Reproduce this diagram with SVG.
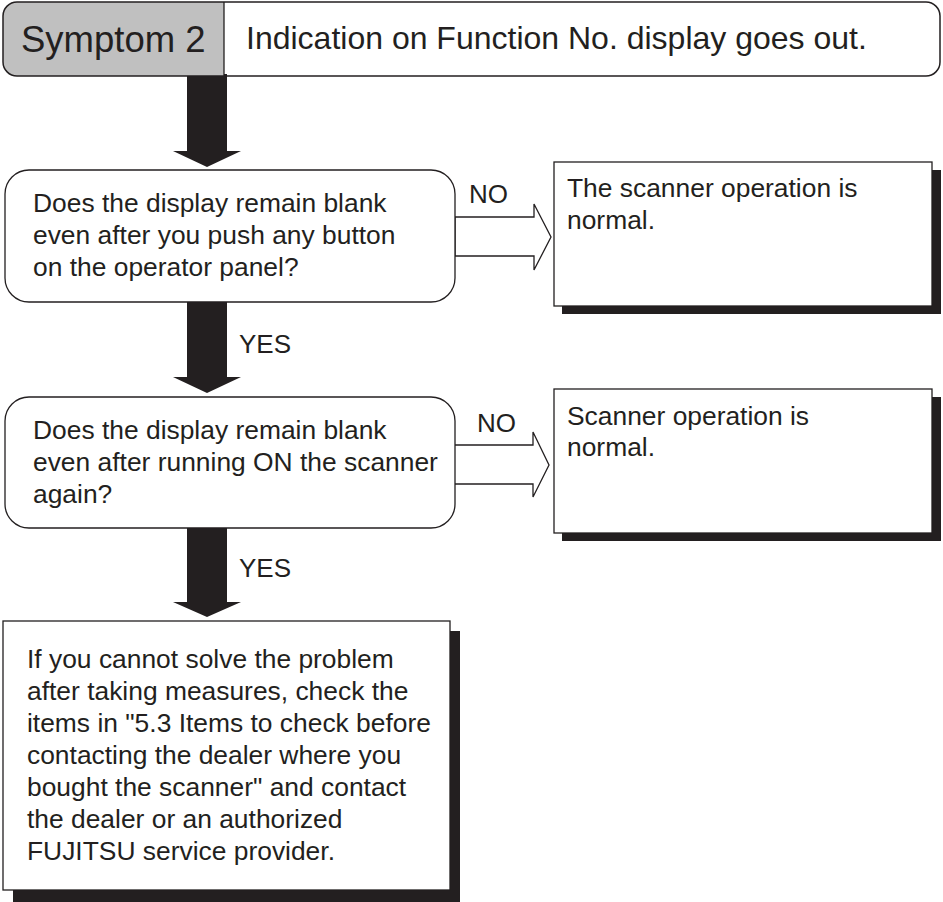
<svg xmlns="http://www.w3.org/2000/svg" width="943" height="902" viewBox="0 0 943 902">
<style>
text{font-family:"Liberation Sans",Arial,sans-serif;fill:#231f20}
.t{font-size:26.4px}
.lbl{font-size:26px}
.box{fill:#fff;stroke:#231f20;stroke-width:1.3}
.shadow{fill:#231f20}
.big{fill:#231f20}
.hollow{fill:#fff;stroke:#231f20;stroke-width:1.3;stroke-linejoin:miter}
</style>
<rect width="943" height="902" fill="#fff"/>
<g id="connectors">
  <polygon class="big" points="187,74 227,74 227,151 241,151 207,167 173,151 187,151"/>
  <polygon class="big" points="187,302 227,302 227,377 241,377 207,393 173,377 187,377"/>
  <polygon class="big" points="187,528 227,528 227,602 241,602 207,617 173,602 187,602"/>
  <polygon class="hollow" points="455,217 534,217 534,204 551,237 534,270 534,256 455,256"/>
  <polygon class="hollow" points="454,445 533,445 533,432 549,465 533,497 533,484 454,484"/>
  <text class="lbl" x="239" y="353">YES</text>
  <text class="lbl" x="239" y="577">YES</text>
  <text class="lbl" x="469" y="203">NO</text>
  <text class="lbl" x="477" y="432">NO</text>
</g>
<g id="header">
  <path d="M224,2 H17 A14,14 0 0 0 3,16 V62 A14,14 0 0 0 17,76 H224 Z" fill="#c0c0c0"/>
  <rect x="3" y="2" width="937" height="74" rx="14" ry="14" fill="none" stroke="#231f20" stroke-width="1.5"/>
  <line x1="224" y1="2" x2="224" y2="76" stroke="#231f20" stroke-width="1.3"/>
  <text x="21" y="52" style="font-size:36.5px">Symptom 2</text>
  <text x="246" y="49" style="font-size:32px">Indication on Function No. display goes out.</text>
</g>
<g id="q1">
  <rect class="box" x="5" y="170" width="450" height="132" rx="24" ry="24"/>
  <text class="t" x="33" y="212">Does the display remain blank</text>
  <text class="t" x="33" y="244">even after you push any button</text>
  <text class="t" x="33" y="276">on the operator panel?</text>
</g>
<g id="r1">
  <rect class="shadow" x="562" y="170" width="379" height="144"/>
  <rect class="box" x="554" y="162" width="378" height="144"/>
  <text class="t" x="567" y="197">The scanner operation is</text>
  <text class="t" x="567" y="229">normal.</text>
</g>
<g id="q2">
  <rect class="box" x="5" y="397" width="450" height="131" rx="24" ry="24"/>
  <text class="t" x="33" y="439">Does the display remain blank</text>
  <text class="t" x="33" y="471">even after running ON the scanner</text>
  <text class="t" x="33" y="503">again?</text>
</g>
<g id="r2">
  <rect class="shadow" x="562" y="397" width="379" height="144"/>
  <rect class="box" x="554" y="389" width="378" height="144"/>
  <text class="t" x="567" y="425">Scanner operation is</text>
  <text class="t" x="567" y="456">normal.</text>
</g>
<g id="final">
  <rect class="shadow" x="13" y="631" width="447" height="271"/>
  <rect class="box" x="3" y="621" width="447" height="269"/>
  <text class="t" x="27" y="668">If you cannot solve the problem</text>
  <text class="t" x="27" y="700">after taking measures, check the</text>
  <text class="t" x="27" y="732">items in "5.3 Items to check before</text>
  <text class="t" x="27" y="764">contacting the dealer where you</text>
  <text class="t" x="27" y="796">bought the scanner" and contact</text>
  <text class="t" x="27" y="828">the dealer or an authorized</text>
  <text class="t" x="27" y="860">FUJITSU service provider.</text>
</g>
</svg>
